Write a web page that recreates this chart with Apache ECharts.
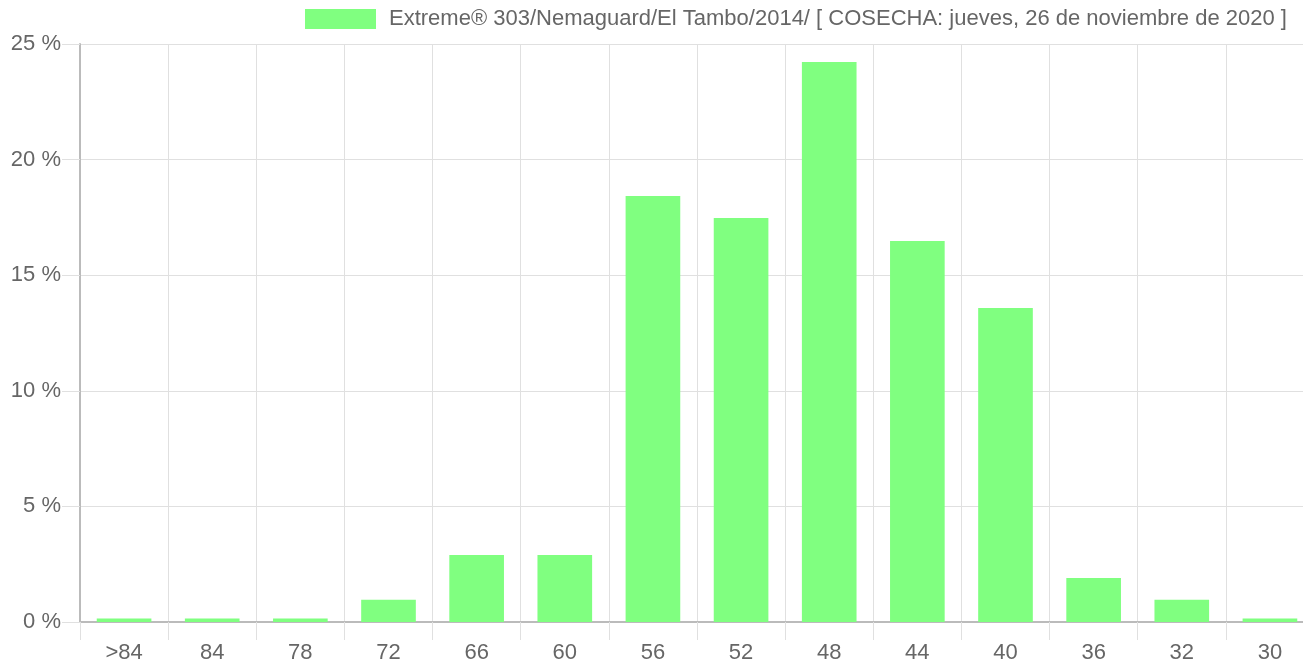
<!DOCTYPE html>
<html>
<head>
<meta charset="utf-8">
<script src="https://cdn.jsdelivr.net/npm/echarts@6/dist/echarts.min.js"></script>
<style>
  html, body { margin: 0; padding: 0; background: #fff; }
  #chart { width: 1303px; height: 665px; }
</style>
</head>
<body>
<div id="chart"></div>
<script>
const categories = ['>84', '84', '78', '72', '66', '60', '56', '52', '48', '44', '40', '36', '32', '30'];
const values = [0.15, 0.15, 0.15, 0.96, 2.9, 2.9, 18.43, 17.47, 24.22, 16.48, 13.58, 1.9, 0.96, 0.15];
const seriesName = 'Extreme® 303/Nemaguard/El Tambo/2014/ [ COSECHA: jueves, 26 de noviembre de 2020 ]';
const yTicks = { min: 0, max: 25, interval: 5 };

var myChart = echarts.init(document.getElementById('chart'));

var option = {
    animation: false,
    textStyle: { fontFamily: 'Liberation Sans, Arial, sans-serif' },
    legend: {
        top: 3,
        left: 300,
        itemWidth: 71,
        itemHeight: 20,
        icon: 'rect',
        textStyle: { color: '#666', fontSize: 22, padding: [0, 0, 0, 8] },
        data: [seriesName]
    },
    grid: {
        left: 80,
        right: -11,
        top: 44,
        bottom: 43,
        outerBoundsMode: 'none'
    },
    xAxis: {
        type: 'category',
        data: categories,
        axisLine: { lineStyle: { color: '#bbb', width: 2 } },
        axisTick: { show: true, length: 18, lineStyle: { color: '#e0e0e0' } },
        axisLabel: { color: '#666', fontSize: 22, margin: 20 },
        splitLine: { show: true, lineStyle: { color: '#e0e0e0' } }
    },
    yAxis: {
        type: 'value',
        min: yTicks.min,
        max: yTicks.max,
        interval: yTicks.interval,
        axisLine: { show: true, lineStyle: { color: '#bbb', width: 2 } },
        axisTick: { show: true, length: 18, lineStyle: { color: '#e0e0e0' } },
        axisLabel: { color: '#666', fontSize: 22, margin: 19, formatter: '{value} %' },
        splitLine: { show: true, lineStyle: { color: '#e0e0e0' } }
    },
    series: [
        {
            name: seriesName,
            type: 'bar',
            data: values,
            barWidth: '62%',
            itemStyle: { color: '#80ff80' }
        }
    ]
};

myChart.setOption(option);
</script>
</body>
</html>
